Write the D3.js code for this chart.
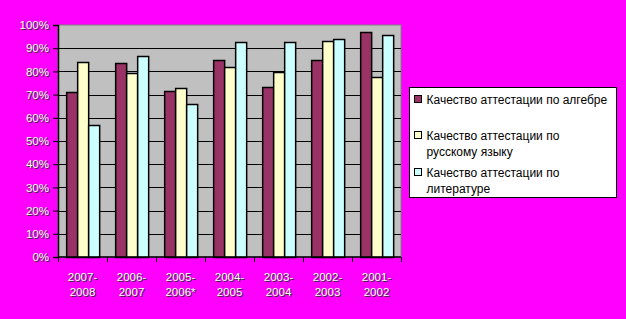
<!DOCTYPE html>
<html>
<head>
<meta charset="utf-8">
<script src="https://cdn.jsdelivr.net/npm/d3@7"></script>
<style>
  html, body { margin: 0; padding: 0; background: #ff00ff; }
  svg { display: block; }
  .lbl { font-family: "Liberation Sans", Arial, sans-serif; font-size: 11.5px; fill: #ffffff;
         text-shadow: 1px 1px 0 #303030; }
  .leg { font-family: "Liberation Sans", Arial, sans-serif; font-size: 12px; fill: #000; }
</style>
</head>
<body>
<div id="chart"></div>
<script>
const categories = ["2007-2008", "2006-2007", "2005-2006*", "2004-2005", "2003-2004", "2002-2003", "2001-2002"];
const algebra = [71, 83.5, 71.4, 84.8, 73.1, 84.8, 96.8];
const russian = [84, 79.5, 72.7, 81.8, 79.6, 93, 77.4];
const literature = [56.8, 86.6, 65.8, 92.5, 92.5, 93.8, 95.6];
const seriesNames = [
  ["Качество аттестации по алгебре"],
  ["Качество аттестации по", "русскому языку"],
  ["Качество аттестации по", "литературе"]
];
const seriesColors = ["#993366", "#ffffcc", "#ccffff"];
const yTicks = [0, 10, 20, 30, 40, 50, 60, 70, 80, 90, 100];

const width = 626, height = 319;
const margin = { top: 25, right: 225, bottom: 62, left: 58 };
const plotW = width - margin.left - margin.right;
const plotH = height - margin.top - margin.bottom;

const svg = d3.select("#chart").append("svg")
  .attr("width", width).attr("height", height);

svg.append("rect").attr("width", width).attr("height", height).attr("fill", "#ff00ff");

const g = svg.append("g").attr("transform", `translate(${margin.left},${margin.top})`);

const series = [algebra, russian, literature];
const rows = categories.map((c, i) => ({ cat: c, vals: series.map(s => s[i]) }));

const x0 = d3.scaleBand().domain(categories).range([0, plotW])
  .paddingInner(1 / 3).paddingOuter(1 / 6);
const x1 = d3.scaleBand().domain(d3.range(series.length)).range([0, x0.bandwidth()]);
const y = d3.scaleLinear().domain([0, 100]).range([plotH, 0]);

// plot background
g.append("rect")
  .attr("width", plotW).attr("height", plotH)
  .attr("fill", "#c0c0c0").attr("stroke", "#808080").attr("stroke-width", 1);

// gridlines
g.append("g").selectAll("line")
  .data(yTicks.filter(d => d > 0 && d < 100))
  .join("line")
  .attr("x1", 0).attr("x2", plotW)
  .attr("y1", d => Math.round(y(d)) + 0.5).attr("y2", d => Math.round(y(d)) + 0.5)
  .attr("stroke", "#000").attr("stroke-width", 1);

// bars
const grp = g.append("g").selectAll("g")
  .data(rows).join("g")
  .attr("transform", d => `translate(${x0(d.cat)},0)`);

grp.selectAll("rect")
  .data(d => d.vals.map((v, k) => ({ k, v })))
  .join("rect")
  .attr("x", d => Math.round(x1(d.k)) + 0.5)
  .attr("y", d => Math.round(y(d.v)) + 0.5)
  .attr("width", Math.round(x1.bandwidth()))
  .attr("height", d => Math.round(plotH - y(d.v)))
  .attr("fill", d => seriesColors[d.k])
  .attr("stroke", "#000").attr("stroke-width", 1.5);

// y axis
const yAxis = d3.axisLeft(y).tickValues(yTicks).tickFormat(d => d + "%")
  .tickSize(5).tickPadding(4);
const ya = g.append("g").call(yAxis);
ya.select(".domain").attr("stroke", "#000").attr("stroke-width", 1.5);
ya.selectAll(".tick line").attr("stroke", "#000");
ya.selectAll(".tick text").attr("class", "lbl").attr("fill", null);
ya.attr("font-size", null).attr("font-family", null);

// x axis line and boundary ticks
g.append("line")
  .attr("x1", 0).attr("x2", plotW).attr("y1", plotH).attr("y2", plotH)
  .attr("stroke", "#000").attr("stroke-width", 1.5);
g.append("g").selectAll("line")
  .data(d3.range(categories.length + 1))
  .join("line")
  .attr("x1", i => Math.round(i * x0.step()) + 0.5)
  .attr("x2", i => Math.round(i * x0.step()) + 0.5)
  .attr("y1", plotH).attr("y2", plotH + 5)
  .attr("stroke", "#000");

// x labels (two lines)
const xl = g.append("g").selectAll("text")
  .data(categories).join("text")
  .attr("class", "lbl")
  .attr("text-anchor", "middle")
  .attr("transform", d => `translate(${x0(d) + x0.bandwidth() / 2},${plotH + 24})`);
xl.append("tspan").attr("x", 0).attr("dy", 0).text(d => d.slice(0, d.indexOf("-") + 1));
xl.append("tspan").attr("x", 0).attr("dy", 15).text(d => d.slice(d.indexOf("-") + 1));

// legend
const leg = svg.append("g").attr("transform", "translate(409.5,87.5)");
leg.append("rect").attr("width", 207).attr("height", 110)
  .attr("fill", "#fff").attr("stroke", "#000").attr("stroke-width", 1);
const itemY = [12, 48, 85];
seriesNames.forEach((lines, k) => {
  const it = leg.append("g").attr("transform", `translate(5,${itemY[k]})`);
  it.append("rect").attr("x", 0).attr("y", -4).attr("width", 7).attr("height", 7)
    .attr("fill", seriesColors[k]).attr("stroke", "#000");
  const t = it.append("text").attr("class", "leg").attr("x", 12).attr("y", 4);
  lines.forEach((ln, j) => t.append("tspan").attr("x", 12).attr("dy", j ? 16 : 0).text(ln));
});
</script>
</body>
</html>
